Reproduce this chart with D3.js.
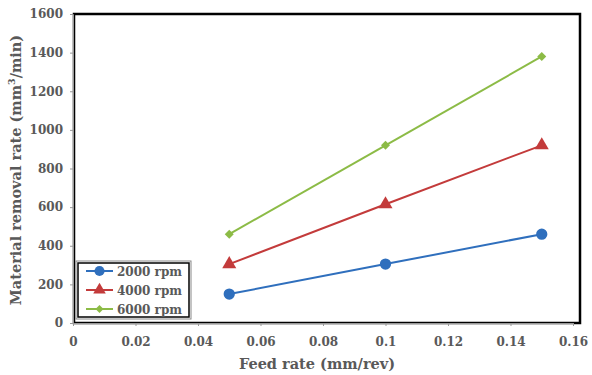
<!DOCTYPE html>
<html><head><meta charset="utf-8">
<script src="https://d3js.org/d3.v7.min.js"></script>
<style>body{margin:0;background:#fff}svg{display:block}</style>
</head><body>
<svg id="c" width="592" height="375"></svg>
<script>
const feed = [0.05, 0.1, 0.15];
const rpm2000 = [150, 305, 460];
const rpm4000 = [305, 615, 920];
const rpm6000 = [460, 920, 1380];
const seriesNames = ["2000 rpm", "4000 rpm", "6000 rpm"];
const xTicks = [0, 0.02, 0.04, 0.06, 0.08, 0.1, 0.12, 0.14, 0.16];
const yTicks = [0, 200, 400, 600, 800, 1000, 1200, 1400, 1600];

const colors = ["#2f6fbd", "#c33b3b", "#8cbb46"];
const shapes = [d3.symbolCircle, d3.symbolTriangle, d3.symbolSquare];
const sizes = [100, 85, 40];
const rot = [0, 0, 45];
const series = [rpm2000, rpm4000, rpm6000];

const svg = d3.select("#c");
const x = d3.scaleLinear().domain([0, 0.16]).range([73, 573]);
const y = d3.scaleLinear().domain([0, 1600]).range([323, 14]);
const font = "'DejaVu Serif',serif";
const tc = "#595959";

// frame
svg.append("rect").attr("x", 74).attr("y", 14).attr("width", 506).attr("height", 309)
  .attr("fill", "none").attr("stroke", "#000").attr("stroke-width", 2.5);

// axes
const xa = svg.append("g").attr("transform", "translate(0,323)")
  .call(d3.axisBottom(x).tickValues(xTicks).tickSize(3).tickFormat(d => d3.format("~g")(d)));
xa.select(".domain").attr("stroke", "#999");
xa.selectAll("line").attr("stroke", "#999");
xa.selectAll("text").attr("font-family", font).attr("font-weight", "bold").attr("font-size", 12)
  .attr("fill", tc).attr("dy", "1.4em");

const ya = svg.append("g").attr("transform", "translate(73,0)")
  .call(d3.axisLeft(y).tickValues(yTicks).tickSize(3).tickFormat(d3.format("d")));
ya.select(".domain").attr("stroke", "#999");
ya.selectAll("line").attr("stroke", "#999");
ya.selectAll("text").attr("font-family", font).attr("font-weight", "bold").attr("font-size", 12)
  .attr("fill", tc).attr("x", -10);

// lines
const line = d3.line().x((d, i) => x(feed[i])).y(d => y(d));
series.forEach((s, k) => {
  svg.append("path").datum(s).attr("d", line).attr("fill", "none")
    .attr("stroke", colors[k]).attr("stroke-width", 2);
  svg.selectAll(null).data(s).enter().append("path")
    .attr("d", d3.symbol().type(shapes[k]).size(sizes[k]))
    .attr("transform", (d, i) => `translate(${x(feed[i])},${y(d)}) rotate(${rot[k]})`)
    .attr("fill", colors[k]);
});

// titles
svg.append("text").attr("x", 317).attr("y", 369).attr("text-anchor", "middle")
  .attr("font-family", font).attr("font-weight", "bold").attr("font-size", 14.5).attr("fill", tc)
  .text("Feed rate (mm/rev)");
const yt = svg.append("text").attr("transform", "translate(21,170) rotate(-90)").attr("text-anchor", "middle")
  .attr("font-family", font).attr("font-weight", "bold").attr("font-size", 14.5).attr("fill", tc);
yt.append("tspan").text("Material removal rate (mm");
yt.append("tspan").attr("font-size", 9.5).attr("dy", -6).text("3");
yt.append("tspan").attr("dy", 6).text("/min)");

// legend
svg.append("rect").attr("x", 76).attr("y", 261).attr("width", 115).attr("height", 58)
  .attr("fill", "#fff").attr("stroke", "#888").attr("stroke-width", 1);
svg.append("rect").attr("x", 78).attr("y", 263).attr("width", 111).attr("height", 54)
  .attr("fill", "#fff").attr("stroke", "#000").attr("stroke-width", 1.5);
seriesNames.forEach((n, k) => {
  const ly = 271 + k * 19;
  svg.append("line").attr("x1", 86).attr("x2", 113).attr("y1", ly).attr("y2", ly)
    .attr("stroke", colors[k]).attr("stroke-width", 2);
  svg.append("path").attr("d", d3.symbol().type(shapes[k]).size(sizes[k] * 0.8))
    .attr("transform", `translate(99.5,${ly}) rotate(${rot[k]})`).attr("fill", colors[k]);
  svg.append("text").attr("x", 117).attr("y", ly + 4.5).attr("font-family", font)
    .attr("font-weight", "bold").attr("font-size", 12).attr("fill", tc).text(n);
});
</script>
</body></html>
